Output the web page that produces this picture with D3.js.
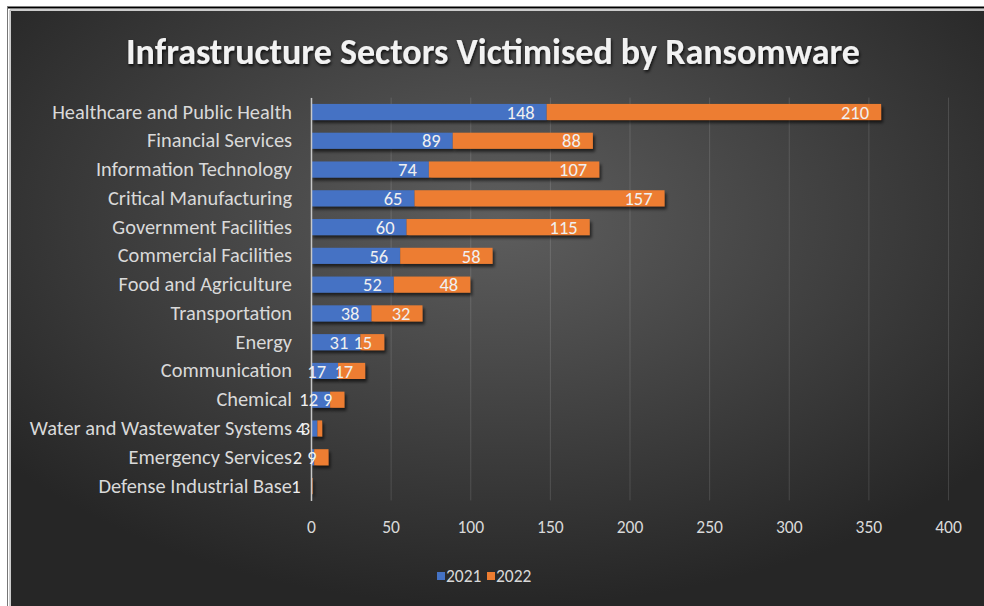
<!DOCTYPE html>
<html>
<head>
<meta charset="utf-8">
<script src="https://cdn.jsdelivr.net/npm/d3@7"></script>
<style>
  body { margin: 0; background: #fff; }
  svg { display: block; font-family: Carlito, Calibri, Lato, sans-serif; }
</style>
</head>
<body>
<svg id="chart" width="984" height="606"></svg>
<script>
// chart data
var categories = [
  'Healthcare and Public Health', 'Financial Services', 'Information Technology',
  'Critical Manufacturing', 'Government Facilities', 'Commercial Facilities',
  'Food and Agriculture', 'Transportation', 'Energy', 'Communication', 'Chemical',
  'Water and Wastewater Systems', 'Emergency Services', 'Defense Industrial Base'
];
var values2021 = [148, 89, 74, 65, 60, 56, 52, 38, 31, 17, 12, 4, 2, 0];
var values2022 = [210, 88, 107, 157, 115, 58, 48, 32, 15, 17, 9, 3, 9, 1];
var seriesNames = ['2021', '2022'];
var xTicks = [0, 50, 100, 150, 200, 250, 300, 350, 400];
var colors = ['#4472c4', '#ed7d31'];

var svg = d3.select('#chart');

var defs = svg.append('defs');
var bg = defs.append('radialGradient').attr('id', 'bg')
  .attr('cx', '50%').attr('cy', '35%').attr('r', '65%');
bg.append('stop').attr('offset', '0%').attr('stop-color', '#5e5e5e');
bg.append('stop').attr('offset', '100%').attr('stop-color', '#262626');

var shadow = defs.append('filter').attr('id', 'shadow')
  .attr('x', '-10%').attr('y', '-30%').attr('width', '130%').attr('height', '180%');
shadow.append('feDropShadow').attr('dx', 2).attr('dy', 3)
  .attr('stdDeviation', 1.5).attr('flood-color', '#000').attr('flood-opacity', 0.6);

var glow = defs.append('filter').attr('id', 'glow')
  .attr('x', '-5%').attr('y', '-40%').attr('width', '110%').attr('height', '180%');
glow.append('feDropShadow').attr('dx', 1).attr('dy', 2)
  .attr('stdDeviation', 1.5).attr('flood-color', '#000').attr('flood-opacity', 0.8);

// frame
svg.append('rect').attr('x', 11).attr('y', 11).attr('width', 973).attr('height', 595)
  .attr('fill', 'url(#bg)');
svg.append('line').attr('x1', 10).attr('x2', 984).attr('y1', 10).attr('y2', 10)
  .attr('stroke', '#9a9a9a');
svg.append('line').attr('x1', 10).attr('x2', 10).attr('y1', 10).attr('y2', 606)
  .attr('stroke', '#9a9a9a');
svg.append('line').attr('x1', 7).attr('x2', 984).attr('y1', 7.5).attr('y2', 7.5)
  .attr('stroke', '#000').attr('stroke-width', 2);
svg.append('line').attr('x1', 7.5).attr('x2', 7.5).attr('y1', 7).attr('y2', 606)
  .attr('stroke', '#777');

// title
svg.append('text')
  .attr('x', 493).attr('y', 64)
  .attr('text-anchor', 'middle')
  .attr('fill', '#f2f2f2')
  .attr('font-size', 36).attr('font-weight', 'bold')
  .attr('filter', 'url(#glow)')
  .text('Infrastructure Sectors Victimised by Ransomware');

var x = d3.scaleLinear().domain([0, 400]).range([311, 948]);
var y = d3.scaleBand().domain(categories).range([97.6, 500.4])
  .paddingInner(0.44).paddingOuter(0.22);

var rows = categories.map(function (c, i) {
  return { category: c, '2021': values2021[i], '2022': values2022[i] };
});
var stacked = d3.stack().keys(seriesNames)(rows);

// gridlines
svg.append('g')
  .attr('transform', 'translate(0,500.4)')
  .call(d3.axisBottom(x).tickValues(xTicks).tickSize(-402.8).tickFormat(''))
  .call(function (g) { g.select('.domain').remove(); })
  .selectAll('line').attr('stroke', '#ffffff').attr('stroke-opacity', 0.13);

// x tick labels
var xAxis = svg.append('g')
  .attr('transform', 'translate(0,500.4)')
  .call(d3.axisBottom(x).tickValues(xTicks).tickSize(0).tickPadding(20));
xAxis.select('.domain').remove();
xAxis.selectAll('text').attr('fill', '#d9d9d9').attr('font-size', 17.5)
  .attr('font-family', 'Carlito, Calibri, Lato, sans-serif');

// bars
var layers = svg.append('g').selectAll('g')
  .data(stacked).enter().append('g')
  .attr('fill', function (d, i) { return colors[i]; })
  .attr('filter', 'url(#shadow)');

layers.selectAll('rect')
  .data(function (d) { return d; })
  .enter().append('rect')
  .attr('x', function (d) { return x(d[0]); })
  .attr('y', function (d) { return y(d.data.category); })
  .attr('width', function (d) { return x(d[1]) - x(d[0]); })
  .attr('height', y.bandwidth());

// y axis
var yAxis = svg.append('g')
  .attr('transform', 'translate(311,0)')
  .call(d3.axisLeft(y).tickSize(0).tickSizeOuter(0).tickPadding(19));
yAxis.select('.domain').attr('stroke', '#c8c8c8').attr('stroke-width', 1.5);
yAxis.selectAll('text').attr('fill', '#d9d9d9').attr('font-size', 20.4)
  .attr('font-family', 'Carlito, Calibri, Lato, sans-serif');

// data labels
var labels = svg.append('g');
stacked.forEach(function (layer) {
  labels.selectAll(null)
    .data(layer.filter(function (d) { return d[1] - d[0] > 0; }))
    .enter().append('text')
    .attr('x', function (d) { return x(d[1]) - 12; })
    .attr('y', function (d) { return y(d.data.category) + y.bandwidth() / 2; })
    .attr('dy', '0.36em')
    .attr('text-anchor', 'end')
    .attr('fill', '#f0f0f0')
    .attr('font-size', 18.5)
    .text(function (d) { return d[1] - d[0]; });
});

// legend
var legend = svg.append('g').attr('transform', 'translate(437,576)');
var items = legend.selectAll('g').data(seriesNames).enter().append('g')
  .attr('transform', function (d, i) { return 'translate(' + (i * 50) + ',0)'; });
items.append('rect').attr('x', 0).attr('y', -4).attr('width', 8).attr('height', 8)
  .attr('fill', function (d, i) { return colors[i]; });
items.append('text').attr('x', 9).attr('dy', '0.36em')
  .attr('fill', '#d9d9d9').attr('font-size', 17.5)
  .text(function (d) { return d; });
</script>
</body>
</html>
